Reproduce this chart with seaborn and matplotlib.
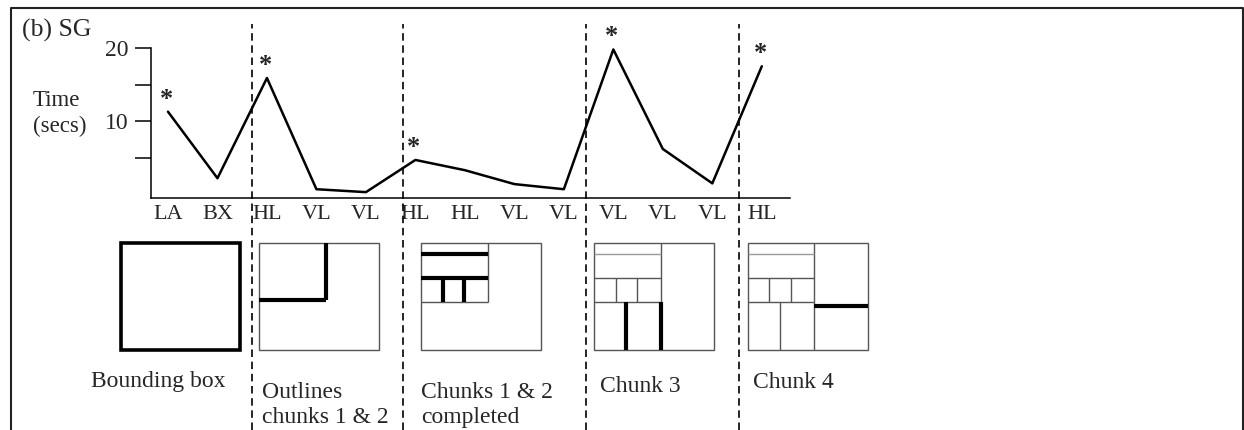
import numpy as np
import pandas as pd
import matplotlib
matplotlib.use("Agg")
import matplotlib.pyplot as plt
import seaborn as sns

# step sequence and time per step (secs)
steps = ["LA", "BX", "HL", "VL", "VL", "HL", "HL", "VL", "VL", "VL", "VL", "VL", "HL"]
times = [11.3, 2.2, 15.9, 0.7, 0.3, 4.7, 3.3, 1.4, 0.7, 19.8, 6.2, 1.5, 17.5]
starred = [0, 2, 5, 9, 12]
chunk_breaks = [1.7, 4.75, 8.44, 11.54]
yticks = [5, 10, 15, 20]
ytick_labels = ["", "10", "", "20"]
panel_labels = ["Bounding box", "Outlines\nchunks 1 & 2", "Chunks 1 & 2\ncompleted",
                "Chunk 3", "Chunk 4"]

sns.set_style("white")
plt.rcParams["font.family"] = ["Liberation Serif", "DejaVu Serif"]

W, H = 1244, 430
fig = plt.figure(figsize=(W / 100, H / 100), dpi=100)

# overlay in pixel coords for the frame and the sketches
ov = fig.add_axes([0, 0, 1, 1])
ov.set_xlim(0, W)
ov.set_ylim(H, 0)
ov.axis("off")
ov.plot([11, 11, 1243, 1243], [H + 10, 8, 8, H + 10], color="#222222", lw=1.5, clip_on=False)

ov.text(22, 30, "(b) SG", fontsize=18.5, va="center", ha="left")
ov.text(33, 114, "Time\n(secs)", fontsize=16.5, va="center", ha="left", linespacing=1.3)

# sketch panels (left edge, segments in box fractions)
box_top, box_h, box_w = 243, 107, 120
panel_left = [121, 259, 421, 594, 748]
thin, light, thick = "#555555", "#999999", "black"
sketches = [
    [],
    [((0.558, 0), (0.558, 0.533), thick), ((0, 0.533), (0.558, 0.533), thick)],
    [((0.558, 0), (0.558, 0.551), thin), ((0, 0.551), (0.558, 0.551), thin),
     ((0, 0.103), (0.558, 0.103), thick), ((0, 0.324), (0.558, 0.324), thick),
     ((0.181, 0.324), (0.181, 0.551), thick), ((0.358, 0.324), (0.358, 0.551), thick)],
    [((0.558, 0), (0.558, 0.551), thin), ((0, 0.103), (0.558, 0.103), light),
     ((0, 0.324), (0.558, 0.324), thin), ((0, 0.551), (0.558, 0.551), thin),
     ((0.183, 0.324), (0.183, 0.551), thin), ((0.358, 0.324), (0.358, 0.551), thin),
     ((0.267, 0.551), (0.267, 1), thick), ((0.558, 0.551), (0.558, 1), thick)],
    [((0.55, 0), (0.55, 1), thin), ((0, 0.103), (0.55, 0.103), light),
     ((0, 0.324), (0.55, 0.324), thin), ((0, 0.551), (0.55, 0.551), thin),
     ((0.175, 0.324), (0.175, 0.551), thin), ((0.356, 0.324), (0.356, 0.551), thin),
     ((0.267, 0.551), (0.267, 1), thin), ((0.55, 0.589), (1, 0.589), thick)],
]
for k, (x0, segs) in enumerate(zip(panel_left, sketches)):
    if k == 0:
        ov.add_patch(plt.Rectangle((x0, box_top), box_w - 1, box_h, fill=False,
                                   ec="black", lw=2.6))
    else:
        ov.add_patch(plt.Rectangle((x0, box_top), box_w, box_h, fill=False,
                                   ec=thin, lw=1.0))
    for (a, b, c) in segs:
        lw = 3.0 if c == thick else 1.0
        ov.plot([x0 + a[0] * box_w, x0 + b[0] * box_w],
                [box_top + a[1] * box_h, box_top + b[1] * box_h],
                color=c, lw=lw, solid_capstyle="butt")

label_pos = [(91, 382), (262, 405), (421, 405), (600, 386), (753, 382)]
for (lx, ly), lab in zip(label_pos, panel_labels):
    ov.text(lx, ly, lab, fontsize=17, ha="left", va="center", linespacing=1.3)

# time line chart
ax = fig.add_axes([151 / W, (H - 198) / H, 639 / W, 150 / H])
ax.patch.set_alpha(0)
df = pd.DataFrame({"step": np.arange(len(steps)), "time": times})
sns.lineplot(data=df, x="step", y="time", color="black", lw=1.8, ax=ax)
for i in starred:
    ax.annotate("*", (i, times[i]), xytext=(-1, 9), textcoords="offset points",
                ha="center", va="center", fontsize=19, fontweight="bold")

ax.set_xlim(-0.343, 12.57)
ax.set_ylim(-0.5, 20)
ax.set_xticks(np.arange(len(steps)))
ax.set_xticklabels(steps)
ax.set_yticks(yticks)
ax.set_yticklabels(ytick_labels)
ax.set_xlabel("")
ax.set_ylabel("")
sns.despine(ax=ax)
for s in ["left", "bottom"]:
    ax.spines[s].set_linewidth(1.1)
    ax.spines[s].set_color("black")
ax.tick_params(axis="y", left=True, direction="out", length=11.5, width=1.1,
               color="black", labelsize=17, pad=5)
ax.tick_params(axis="x", bottom=False, length=0, labelsize=16, pad=5)

for xb in chunk_breaks:
    ax.axvline(xb, ymin=(198 - H) / 150, ymax=(198 - 24) / 150, color="black",
               lw=1.2, dashes=(4.5, 2.8), clip_on=False)

fig.savefig("out.png", dpi=100)
